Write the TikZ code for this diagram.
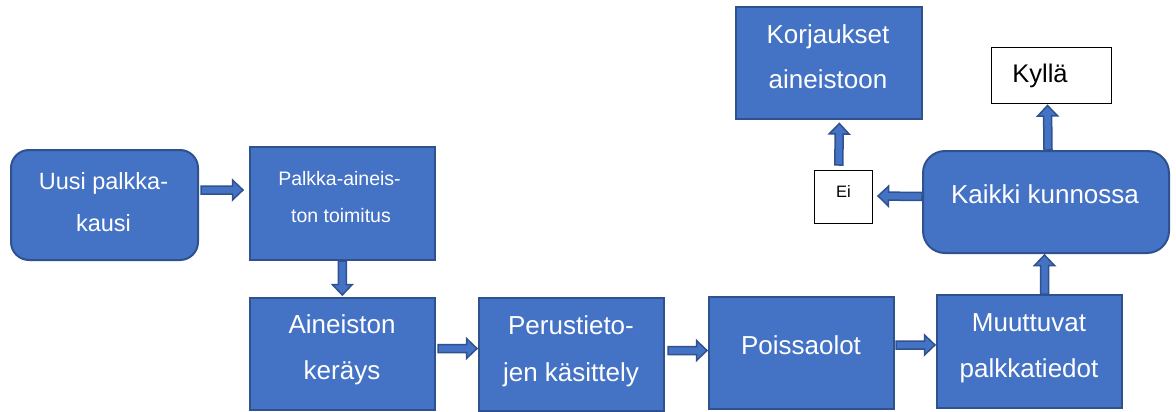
\documentclass[tikz,border=0pt]{standalone}
\usepackage{fontspec}
\setmainfont{Liberation Sans}
\usetikzlibrary{calc}
\definecolor{boxfill}{HTML}{4472C4}
\definecolor{boxline}{HTML}{2F528F}

% Block arrow (filled shaft with a triangular head) from #1 to #2
\newcommand\blockarrow[2]{%
  \draw[arrowbody] let \p1=(#1), \p2=(#2),
      \n1={atan2(\y2-\y1,\x2-\x1)}, \n2={veclen(\x2-\x1,\y2-\y1)} in
    ([shift={(\p1)},rotate=\n1]0pt,-4pt)
    -- ([shift={(\p1)},rotate=\n1]{\n2-10.5pt},-4pt)
    -- ([shift={(\p1)},rotate=\n1]{\n2-10.5pt},-10pt)
    -- ([shift={(\p1)},rotate=\n1]{\n2},0pt)
    -- ([shift={(\p1)},rotate=\n1]{\n2-10.5pt},10pt)
    -- ([shift={(\p1)},rotate=\n1]{\n2-10.5pt},4pt)
    -- ([shift={(\p1)},rotate=\n1]0pt,4pt) -- cycle;}

\begin{document}
\begin{tikzpicture}[x=1pt,y=-1pt,
  stepbox/.style={draw=boxline, fill=boxfill, line width=2pt, inner sep=0pt, anchor=north west},
  roundbox/.style={stepbox, rounded corners=#1},
  answerbox/.style={draw=black, fill=white, line width=1pt, inner sep=0pt, anchor=north west},
  arrowbody/.style={draw=boxline, fill=boxfill, line width=1.5pt, line join=miter},
  wtext/.style={text=white, inner sep=0pt, anchor=base, font=\fontsize{26}{26}\selectfont},
  btext/.style={text=black, inner sep=0pt, anchor=base},
]
\fill[white] (0,0) rectangle (1176,412);
\useasboundingbox (0,0) rectangle (1176,412);

% Boxes
\node[roundbox=18pt, minimum width=187pt, minimum height=110pt] (uusi) at (10,149) {};
\node[stepbox, minimum width=185pt, minimum height=113pt] (toim) at (249,146) {};
\node[stepbox, minimum width=185pt, minimum height=112pt] (keray) at (249,297) {};
\node[stepbox, minimum width=185pt, minimum height=113pt] (perus) at (478,297) {};
\node[stepbox, minimum width=185pt, minimum height=112pt] (poiss) at (708,296) {};
\node[stepbox, minimum width=185pt, minimum height=113pt] (muutt) at (936,294) {};
\node[roundbox=22pt, minimum width=246pt, minimum height=102pt] (kunnossa) at (922,150) {};
\node[stepbox, minimum width=186pt, minimum height=112pt] (korj) at (735,6) {};
\node[answerbox, minimum width=120pt, minimum height=56pt] (kylla) at (991,47) {};
\node[answerbox, minimum width=58pt, minimum height=53pt] (ei) at (814,170) {};

% Labels
\node[wtext, font=\fontsize{23.5}{23.5}\selectfont] (uusi1) at (103.5,189) {Uusi palkka-};
\node[wtext, font=\fontsize{23.5}{23.5}\selectfont] (uusi2) at (103.5,231) {kausi};
\node[wtext, font=\fontsize{19.5}{19.5}\selectfont] (toim1) at (339.5,185) {Palkka-aineis-};
\node[wtext, font=\fontsize{19.5}{19.5}\selectfont] (toim2) at (341,222) {ton toimitus};
\node[wtext] (keray1) at (342,333) {Aineiston};
\node[wtext] (keray2) at (342,379) {keräys};
\node[wtext] (perus1) at (571,334) {Perustieto-};
\node[wtext] (perus2) at (571,381) {jen käsittely};
\node[wtext] (poiss1) at (801,354) {Poissaolot};
\node[wtext] (muutt1) at (1029,331) {Muuttuvat};
\node[wtext] (muutt2) at (1029,377) {palkkatiedot};
\node[wtext] (kunnossa1) at (1045,203) {Kaikki kunnossa};
\node[wtext] (korj1) at (828,43.5) {Korjaukset};
\node[wtext] (korj2) at (828,88.5) {aineistoon};
\node[btext, font=\fontsize{25.5}{25.5}\selectfont] (kylla1) at (1040,82.5) {Kyllä};
\node[btext, font=\fontsize{16.5}{16.5}\selectfont] (ei1) at (843.5,197.5) {Ei};

% Flow arrows
\blockarrow{$(uusi.east)+(2,-15)$}{$(toim.west)+(-6,-13.5)$}
\blockarrow{$(toim.south)+(-0.2,0)$}{$(keray.north)+(-0.2,-2)$}
\blockarrow{$(keray.east)+(2,-5.5)$}{$(perus.west)+(-1,-6)$}
\blockarrow{$(perus.east)+(3,-4)$}{$(poiss.west)+(-1,-2.5)$}
\blockarrow{$(poiss.east)+(1,-8)$}{$(muutt.west)+(-1,-6.5)$}
\blockarrow{$(muutt.north)+(15,0)$}{$(kunnossa.south)+(-1.5,1)$}
\blockarrow{$(kunnossa.north)+(2,0)$}{$(kylla.south)+(-4,1.5)$}
\blockarrow{$(kunnossa.west)+(0,-5.5)$}{$(ei.east)+(5,-1)$}
\blockarrow{$(ei.north)+(-4.7,-5)$}{$(korj.south)+(10.3,3.5)$}
\end{tikzpicture}
\end{document}
